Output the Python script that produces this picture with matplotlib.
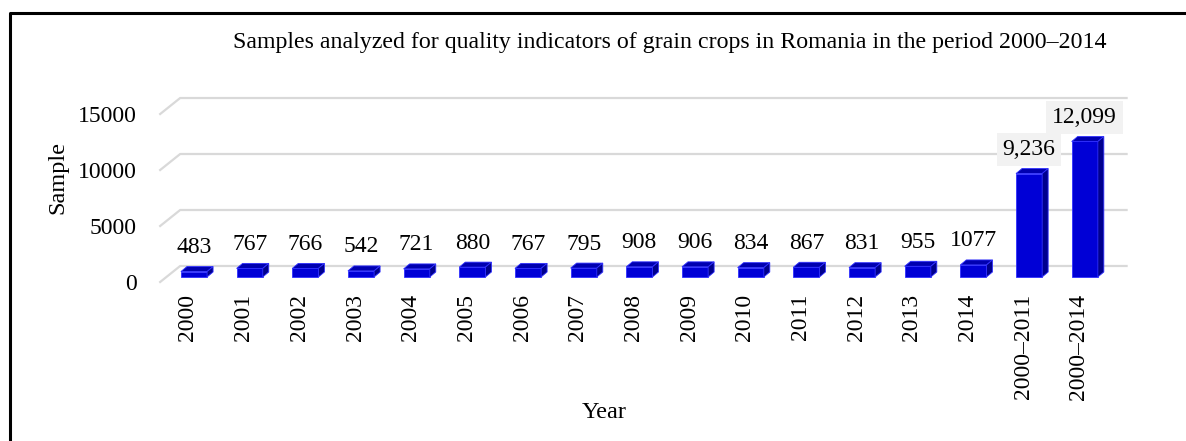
import matplotlib
matplotlib.use("Agg")
import matplotlib.pyplot as plt
import matplotlib.transforms as mtransforms
from matplotlib.patches import Polygon, Rectangle
from matplotlib.lines import Line2D

years = ["2000", "2001", "2002", "2003", "2004", "2005", "2006", "2007", "2008",
         "2009", "2010", "2011", "2012", "2013", "2014", "2000–2011", "2000–2014"]
samples = [483, 767, 766, 542, 721, 880, 767, 795, 908, 906, 834, 867, 831, 955,
           1077, 9236, 12099]
value_labels = ["483", "767", "766", "542", "721", "880", "767", "795", "908", "906",
                "834", "867", "831", "955", "1077", "9,236", "12,099"]
yticks = [0, 5000, 10000, 15000]

plt.rcParams['font.family'] = ['Liberation Serif', 'DejaVu Serif']

fig = plt.figure(figsize=(11.86, 4.41), dpi=100)
ax = fig.add_axes([0.1401, 0.3719, 0.798, 0.4063])
ax.set_xlim(-0.5, 16.5)
ax.set_ylim(0, 16000)
for sp in ax.spines.values():
    sp.set_visible(False)

# pixel -> data conversion (for the fake 3d depth)
bb = ax.get_position()
px_x = bb.width * fig.get_figwidth() * fig.dpi / 17.0
px_y = bb.height * fig.get_figheight() * fig.dpi / 16000.0

# back-wall gridlines with a little floor diagonal
x0, x1 = -0.5, 16.5
for v in yticks:
    xs = [x0 - 6 / px_x, x0 + 14 / px_x, x1 + 14 / px_x]
    ys = [v - 5 / px_y, v + 11 / px_y, v + 11 / px_y]
    ax.plot(xs, ys, color='#d9d9d9', lw=1.6, clip_on=False, zorder=1)

# bars
w = 0.47
ddx = 6 / px_x
ddy = 5 / px_y
for i, v in enumerate(samples):
    l, r = i - w / 2, i + w / 2
    ax.add_patch(Rectangle((l, 0), w, v, fc='#0000d6', ec='#3030ff', lw=0.6,
                           zorder=3, clip_on=False))
    ax.add_patch(Polygon([(l, v), (r, v), (r + ddx, v + ddy), (l + ddx, v + ddy)],
                         closed=True, fc='#0000b0', ec='#3030ff', lw=0.6,
                         zorder=3, clip_on=False))
    ax.add_patch(Polygon([(r, 0), (r + ddx, ddy), (r + ddx, v + ddy), (r, v)],
                         closed=True, fc='#00008e', ec='#3030ff', lw=0.6,
                         zorder=3, clip_on=False))
    box = None
    if i >= 15:
        box = dict(boxstyle='square,pad=0.25', fc='#f2f2f2', ec='none')
    ax.annotate(value_labels[i], (i, v), xytext=(0, 24), textcoords='offset pixels',
                ha='center', va='center', fontsize=17, bbox=box, zorder=4)

ax.set_xticks(range(len(years)))
ax.set_xticklabels(years, rotation=90, fontsize=17)
ax.set_yticks(yticks)
ax.set_yticklabels([str(t) for t in yticks], fontsize=17)
ax.tick_params(axis='x', length=0, pad=12)
ax.tick_params(axis='y', length=0, pad=21)
shift_x = mtransforms.ScaledTranslation(-0.06, 0, fig.dpi_scale_trans)
shift_y = mtransforms.ScaledTranslation(0, -0.05, fig.dpi_scale_trans)
for lbl in ax.get_xticklabels():
    lbl.set_transform(lbl.get_transform() + shift_x)
for lbl in ax.get_yticklabels():
    lbl.set_transform(lbl.get_transform() + shift_y)

fig.text(0.565, 0.9025, "Samples analyzed for quality indicators of grain crops in Romania in the period 2000–2014",
         ha='center', va='center', fontsize=17.2)
fig.text(58 / 1186, 1 - 177 / 441, "Sample", rotation=90, ha='center', va='center', fontsize=17.5)
fig.text(604 / 1186, 1 - 413 / 441, "Year", ha='center', va='center', fontsize=17.5)

# outer frame (left and top only visible)
fy = 1 - 12.5 / 441
fx = 9.5 / 1186
fig.add_artist(Line2D([fx, fx, 1], [0, fy, fy], color='black', lw=2.2,
                      transform=fig.transFigure))

fig.savefig("out.png", dpi=100)
